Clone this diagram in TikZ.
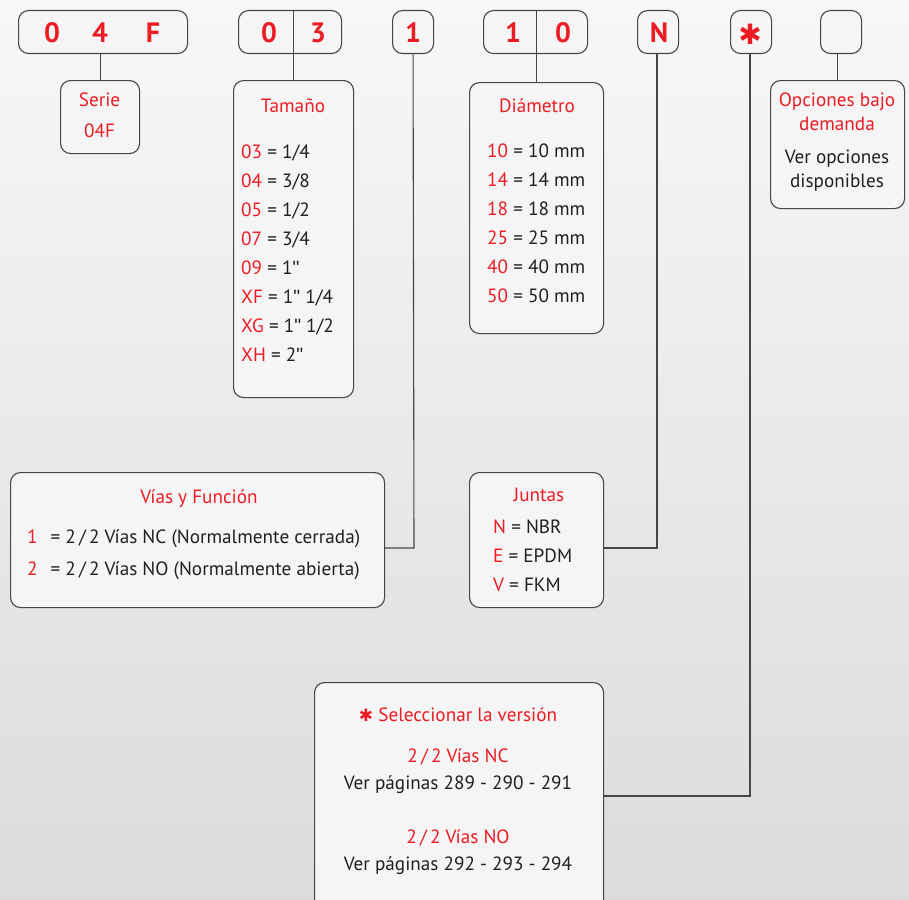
\documentclass[tikz,border=0pt]{standalone}
\usepackage{fontspec}
\setmainfont{PT Sans}
\newfontfamily\symf{DejaVu Sans}
\newfontfamily\qf{Liberation Sans}
\definecolor{rd}{RGB}{237,28,36}
\definecolor{tx}{RGB}{35,31,32}
\definecolor{bd}{RGB}{70,70,70}
\definecolor{bx}{RGB}{245,245,245}
\tikzset{
  box/.style={draw=bd, line width=1.1pt, fill=bx, rounded corners=10pt, inner sep=0pt, anchor=north west},
  conn/.style={draw=bd, line width=1.1pt},
  big/.style={font=\fontsize{28}{30}\selectfont\bfseries, text=rd, anchor=base, inner sep=0pt},
  ttl/.style={font=\fontsize{19.2}{21}\selectfont, text=rd, anchor=base, inner sep=0pt},
  ctr/.style={font=\fontsize{19.2}{21}\selectfont, text=tx, anchor=base, inner sep=0pt},
  lft/.style={font=\fontsize{19.2}{21}\selectfont, text=tx, anchor=base west, inner sep=0pt},
}
\newcommand{\R}[1]{\textcolor{rd}{#1}}
\newcommand{\inch}{{\qf\symbol{34}}}
\begin{document}
\begin{tikzpicture}[x=1pt,y=-1pt]
\shade[top color=white!97!black, bottom color=white!86!black] (0,0) rectangle (909,899);
\useasboundingbox (0,0) rectangle (909,899);

% top code boxes
\node[box, minimum width=169pt, minimum height=43pt] (b04f) at (18,10) {};
\node[box, minimum width=103pt, minimum height=43pt] (b03) at (238,10) {};
\node[box, minimum width=41pt, minimum height=43pt] (b1) at (392,10) {};
\node[box, minimum width=104pt, minimum height=43pt] (b10) at (483,10) {};
\node[box, minimum width=41pt, minimum height=43pt] (bN) at (637,10) {};
\node[box, minimum width=41pt, minimum height=43pt] (bS) at (730,10) {};
\node[box, minimum width=41pt, minimum height=43pt] (bE) at (820,10) {};

\node[big] (t0) at (52,42) {0};
\node[big] (t4) at (100,42) {4};
\node[big] (tF) at (153,42) {F};
\node[big] (t03a) at (269,42) {0};
\node[big] (t03b) at (318,42) {3};
\node[big] (t1) at (413,42) {1};
\node[big] (t10a) at (513,42) {1};
\node[big] (t10b) at (563,42) {0};
\node[big] (tN) at (659,42) {N};
\node[big, font=\fontsize{28}{30}\selectfont\symf\bfseries] (tS) at (750,45) {✱};

% Serie
\node[box, minimum width=79pt, minimum height=73pt] (serie) at (60,80) {};
\node[ttl] (serieA) at (99.5,106) {Serie};
\node[ttl] (serieB) at (99.5,137) {04F};
\draw[conn] (b04f.south -| serie.north) -- (serie.north);

% Tamaño
\node[box, minimum width=120pt, minimum height=317pt] (tam) at (233,80) {};
\draw[conn] (tam.north) -- (b03.north -| tam.north);
\node[ttl] (tamT) at (293,112) {Tamaño};
\node[lft] (tam1) at (241,158) {\R{03} = 1/4};
\node[lft] (tam2) at (241,187) {\R{04} = 3/8};
\node[lft] (tam3) at (241,216) {\R{05} = 1/2};
\node[lft] (tam4) at (241,245) {\R{07} = 3/4};
\node[lft] (tam5) at (241,274) {\R{09} = 1\inch};
\node[lft] (tam6) at (241,303) {\R{XF} = 1\inch{} 1/4};
\node[lft] (tam7) at (241,332) {\R{XG} = 1\inch{} 1/2};
\node[lft] (tam8) at (241,361) {\R{XH} = 2\inch};

% Diámetro
\node[box, minimum width=134pt, minimum height=251pt] (dia) at (469,82) {};
\draw[conn] (dia.north) -- (b10.north -| dia.north);
\node[ttl] (diaT) at (537,112) {Diámetro};
\node[lft] (dia1) at (487,157) {\R{10} = 10 mm};
\node[lft] (dia2) at (487,186) {\R{14} = 14 mm};
\node[lft] (dia3) at (487,215) {\R{18} = 18 mm};
\node[lft] (dia4) at (487,244) {\R{25} = 25 mm};
\node[lft] (dia5) at (487,273) {\R{40} = 40 mm};
\node[lft] (dia6) at (487,302) {\R{50} = 50 mm};

% Opciones
\node[box, minimum width=134pt, minimum height=128pt] (opc) at (770,80) {};
\draw[conn] (bE.south -| opc.north) -- (opc.north);
\node[ttl] (opc1) at (837,106) {Opciones bajo};
\node[ttl] (opc2) at (837,130) {demanda};
\node[ctr] (opc3) at (837,163) {Ver opciones};
\node[ctr] (opc4) at (837,187) {disponibles};

% Vías y Función
\node[box, minimum width=374pt, minimum height=135pt] (vias) at (10,472) {};
\node[ttl] (viasT) at (199,503) {Vías y Función};
\node[lft] (vias1) at (27,543) {\R{1}\hspace{13pt}=\hspace{5pt}2\,/\,2 Vías NC (Normalmente cerrada)};
\node[lft] (vias2) at (27,575) {\R{2}\hspace{13pt}=\hspace{5pt}2\,/\,2 Vías NO (Normalmente abierta)};
\coordinate (c1) at (414,548);
\draw[conn] (b1.south) -- (c1) -- (c1 -| vias.east);

% Juntas
\node[box, minimum width=134pt, minimum height=135pt] (jun) at (469,472) {};
\node[ttl] (junT) at (539,501) {Juntas};
\node[lft] (jun1) at (493,533) {\R{N} = NBR};
\node[lft] (jun2) at (493,562) {\R{E} = EPDM};
\node[lft] (jun3) at (493,591) {\R{V} = FKM};
\coordinate (c2) at (657,548);
\draw[conn] (bN.south -| c2) -- (c2) -- (c2 -| jun.east);

% Seleccionar
\node[box, minimum width=289pt, minimum height=240pt] (sel) at (314,682) {};
\node[ttl] (sel1) at (458,721) {{\symf\fontsize{17}{18}\selectfont ✱} Seleccionar la versión};
\node[ttl] (sel2) at (458,762) {2\,/\,2 Vías NC};
\node[ctr] (sel3) at (458,789) {Ver páginas 289 - 290 - 291};
\node[ttl] (sel4) at (458,843) {2\,/\,2 Vías NO};
\node[ctr] (sel5) at (458,870) {Ver páginas 292 - 293 - 294};
\coordinate (c3) at (750,796);
\draw[conn] (bS.south -| c3) -- (c3) -- (c3 -| sel.east);
\end{tikzpicture}
\end{document}
